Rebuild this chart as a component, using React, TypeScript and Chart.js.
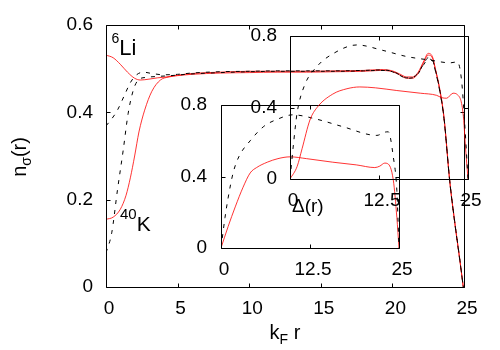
import React, { useEffect, useRef } from "react";
import { Chart, registerables } from "chart.js";

Chart.register(...registerables);

type P = [number, number][];

const FONT = "'Liberation Sans', Arial, Helvetica, sans-serif";
const RED = "rgba(255,0,0,0.8)";
const BLACK = "#000";
const DASH = [4, 6];

// ---------- main panel: n_sigma(r) vs k_F r ----------
const mainXTicks = [0, 5, 10, 15, 20, 25];
const mainXTickLabels = ["0", "5", "10", "15", "20", "25"];
const mainYTicks = [0, 0.2, 0.4, 0.6];
const mainYTickLabels = ["0", "0.2", "0.4", "0.6"];

const li6Red: P = [
  [0, 0.531], [0.5, 0.525], [1, 0.51], [1.5, 0.492], [2, 0.478], [2.4, 0.474], [3, 0.476],
  [3.6, 0.479], [4.2, 0.481], [5, 0.485], [6, 0.489], [8, 0.492], [10, 0.494], [12, 0.494],
  [14, 0.494], [16, 0.495], [18, 0.496], [19.2, 0.498], [20, 0.495], [20.5, 0.488], [21, 0.481],
  [21.4, 0.481], [21.8, 0.492], [22.2, 0.518], [22.5, 0.535], [22.8, 0.527], [23, 0.5],
  [23.3, 0.455], [23.6, 0.39], [24, 0.245], [24.35, 0.15], [24.7, 0.065], [24.95, 0],
];
const k40Red: P = [
  [0, 0.155], [0.5, 0.16], [1, 0.178], [1.4, 0.21], [1.7, 0.25], [2, 0.3], [2.3, 0.355],
  [2.7, 0.405], [3.2, 0.448], [3.8, 0.474], [4.4, 0.481], [5, 0.484], [6, 0.487], [8, 0.49],
  [10, 0.491], [12, 0.492], [14, 0.492], [16, 0.493], [18, 0.494], [19.2, 0.496], [20, 0.493],
  [20.5, 0.486], [21, 0.478], [21.4, 0.478], [21.8, 0.489], [22.2, 0.515], [22.5, 0.531],
  [22.8, 0.524], [23, 0.498], [23.3, 0.452], [23.6, 0.388], [24, 0.243], [24.35, 0.148],
  [24.7, 0.063], [24.95, 0],
];
const li6Dash: P = [
  [0, 0.369], [0.4, 0.385], [0.8, 0.405], [1.3, 0.44], [1.7, 0.468], [2.1, 0.485], [2.6, 0.492],
  [3.2, 0.489], [4, 0.486], [5, 0.487], [6, 0.49], [8, 0.493], [10, 0.494], [12, 0.495],
  [14, 0.495], [16, 0.495], [18, 0.496], [19.2, 0.497], [20, 0.494], [20.5, 0.486], [21, 0.479],
  [21.4, 0.48], [21.8, 0.49], [22.2, 0.512], [22.5, 0.525], [22.8, 0.52], [23, 0.497],
  [23.3, 0.452], [23.6, 0.388], [24, 0.245], [24.35, 0.15], [24.7, 0.065], [24.95, 0],
];
const k40Dash: P = [
  [0, 0.078], [0.4, 0.124], [0.8, 0.222], [1.2, 0.313], [1.55, 0.398], [1.9, 0.45], [2.25, 0.474],
  [2.8, 0.48], [3.5, 0.482], [4.5, 0.484], [6, 0.488], [8, 0.491], [10, 0.493], [12, 0.494],
  [14, 0.494], [16, 0.494], [18, 0.495], [19.2, 0.496], [20, 0.493], [20.5, 0.485], [21, 0.478],
  [21.4, 0.479], [21.8, 0.489], [22.2, 0.51], [22.5, 0.522], [22.8, 0.518], [23, 0.495],
  [23.3, 0.45], [23.6, 0.386], [24, 0.243], [24.35, 0.148], [24.7, 0.063], [24.95, 0],
];

// ---------- inset panels ----------
const insetXTicks = [0, 12.5, 25];
const insetXTickLabels = ["0", "12.5", "25"];
const insetYTicks = [0, 0.4, 0.8];
const insetYTickLabels = ["0", "0.4", "0.8"];

const inset1Red: P = [
  [0, 0], [1, 0.12], [2, 0.23], [3.1, 0.34], [4.1, 0.42], [5, 0.45], [6.5, 0.48], [8, 0.5],
  [9.7, 0.51], [12, 0.5], [15.7, 0.48], [19, 0.465], [21.6, 0.45], [22.3, 0.458], [23, 0.475],
  [23.4, 0.472], [24.2, 0.38], [24.7, 0.17], [25, 0],
];
const inset1Dash: P = [
  [0, 0], [0.56, 0.17], [1, 0.28], [1.7, 0.42], [2.5, 0.51], [4.1, 0.6], [6, 0.68], [7.9, 0.72],
  [10.1, 0.745], [13.5, 0.72], [17, 0.68], [21.9, 0.63], [23, 0.648], [23.5, 0.65], [24.2, 0.51],
  [24.7, 0.32], [25, 0],
];
const inset2Red: P = [
  [0, 0], [1, 0.07], [1.7, 0.17], [2.8, 0.33], [3.8, 0.4], [6, 0.475], [8, 0.505], [9.8, 0.515],
  [12, 0.51], [15, 0.495], [18.3, 0.48], [20.6, 0.468], [21.3, 0.455], [22, 0.452], [22.9, 0.48],
  [23.5, 0.472], [24.3, 0.37], [24.7, 0.15], [25, 0],
];
const inset2Dash: P = [
  [0, 0], [0.5, 0.2], [1, 0.37], [2, 0.52], [3.8, 0.63], [6, 0.7], [9.4, 0.75], [13, 0.72],
  [16.4, 0.685], [19.7, 0.665], [22.5, 0.65], [23.5, 0.655], [24.1, 0.55], [24.6, 0.27], [25, 0],
];

type Part = { t: string; size: number; dy?: number };

function drawRich(ctx: CanvasRenderingContext2D, parts: Part[], x: number, y: number, align: "left" | "center") {
  let total = 0;
  const widths = parts.map((p) => {
    ctx.font = `${p.size}px ${FONT}`;
    const w = ctx.measureText(p.t).width;
    total += w;
    return w;
  });
  let cx = align === "center" ? x - total / 2 : x;
  ctx.textAlign = "left";
  ctx.textBaseline = "alphabetic";
  ctx.fillStyle = "#000";
  parts.forEach((p, i) => {
    ctx.font = `${p.size}px ${FONT}`;
    ctx.fillText(p.t, cx, y + (p.dy || 0));
    cx += widths[i];
  });
}

interface Spec {
  name: string;
  area: { left: number; top: number; right: number; bottom: number };
  xMax: number;
  yMax: number;
  xTicks: number[];
  xTickLabels: string[];
  yTicks: number[];
  yTickLabels: string[];
  xPad: number;
  yPad: number;
  series: { data: P; color: string; dash: number[] }[];
  texts?: (ctx: CanvasRenderingContext2D) => void;
}

const Y_W = 60;
const X_H = 40;
const TICK = 4;

function build(canvas: HTMLCanvasElement, s: Spec) {
  const frame = {
    id: "frame_" + s.name,
    afterDatasetsDraw(chart: any) {
      const { ctx, chartArea: a, scales } = chart;
      const sx = scales.x;
      const sy = scales.y;
      ctx.save();
      ctx.strokeStyle = BLACK;
      ctx.lineWidth = 1;
      ctx.setLineDash([]);
      const L = Math.round(a.left) + 0.5;
      const R = Math.round(a.right) + 0.5;
      const T = Math.round(a.top) + 0.5;
      const B = Math.round(a.bottom) + 0.5;
      ctx.beginPath();
      ctx.rect(L, T, R - L, B - T);
      s.xTicks.forEach((v) => {
        const px = Math.round(sx.getPixelForValue(v)) + 0.5;
        ctx.moveTo(px, B);
        ctx.lineTo(px, B - TICK);
        ctx.moveTo(px, T);
        ctx.lineTo(px, T + TICK);
      });
      s.yTicks.forEach((v) => {
        const py = Math.round(sy.getPixelForValue(v)) + 0.5;
        ctx.moveTo(L, py);
        ctx.lineTo(L + TICK, py);
        ctx.moveTo(R, py);
        ctx.lineTo(R - TICK, py);
      });
      ctx.stroke();
      if (s.texts) s.texts(ctx);
      ctx.restore();
    },
  };

  const tickFont = { family: FONT, size: 19 };
  return new Chart(canvas, {
    type: "line",
    data: {
      datasets: s.series.map((d) => ({
        data: d.data.map(([x, y]) => ({ x, y })),
        borderColor: d.color,
        borderDash: d.dash,
        borderWidth: 1,
        pointRadius: 0,
        fill: false,
        cubicInterpolationMode: "monotone" as const,
      })),
    },
    options: {
      responsive: false,
      animation: false,
      devicePixelRatio: 1,
      events: [],
      layout: {
        padding: {
          left: s.area.left - Y_W,
          top: s.area.top,
          right: 500 - s.area.right,
          bottom: 350 - s.area.bottom - X_H,
        },
      },
      plugins: { legend: { display: false }, tooltip: { enabled: false }, title: { display: false } },
      scales: {
        x: {
          type: "linear",
          min: 0,
          max: s.xMax,
          grid: { display: false, drawTicks: false },
          border: { display: false },
          afterBuildTicks: (ax: any) => {
            ax.ticks = s.xTicks.map((v) => ({ value: v }));
          },
          afterFit: (ax: any) => {
            ax.height = X_H;
          },
          ticks: {
            callback: (_v: any, i: number) => s.xTickLabels[i],
            font: tickFont,
            color: "#000",
            padding: s.xPad,
            labelOffset: 3,
            maxRotation: 0,
            minRotation: 0,
            autoSkip: false,
          },
        },
        y: {
          type: "linear",
          min: 0,
          max: s.yMax,
          grid: { display: false, drawTicks: false },
          border: { display: false },
          afterBuildTicks: (ax: any) => {
            ax.ticks = s.yTicks.map((v) => ({ value: v }));
          },
          afterFit: (ax: any) => {
            ax.width = Y_W;
          },
          ticks: {
            callback: (_v: any, i: number) => s.yTickLabels[i],
            font: tickFont,
            color: "#000",
            padding: s.yPad,
            autoSkip: false,
          },
        },
      },
    } as any,
    plugins: [frame as any],
  });
}

const mainSpec: Spec = {
  name: "main",
  area: { left: 106, top: 25, right: 464, bottom: 287 },
  xMax: 25,
  yMax: 0.6,
  xTicks: mainXTicks,
  xTickLabels: mainXTickLabels,
  yTicks: mainYTicks,
  yTickLabels: mainYTickLabels,
  xPad: 10,
  yPad: 13,
  series: [
    { data: li6Dash, color: BLACK, dash: DASH },
    { data: k40Dash, color: BLACK, dash: DASH },
    { data: li6Red, color: RED, dash: [] },
    { data: k40Red, color: RED, dash: [] },
  ],
  texts: (ctx) => {
    // axis titles
    drawRich(ctx, [{ t: "k", size: 20 }, { t: "F", size: 14, dy: 5 }, { t: " r", size: 20 }], 285, 339, "center");
    ctx.save();
    ctx.translate(26, 157);
    ctx.rotate(-Math.PI / 2);
    drawRich(ctx, [{ t: "n", size: 20 }, { t: "σ", size: 14, dy: 5 }, { t: "(r)", size: 20 }], 0, 0, "center");
    ctx.restore();
    // species labels
    drawRich(ctx, [{ t: "6", size: 14, dy: -12 }, { t: "Li", size: 22 }], 111.5, 55, "left");
    drawRich(ctx, [{ t: "40", size: 15, dy: -12 }, { t: "K", size: 21 }], 120, 231, "left");
  },
};

const inset1Spec: Spec = {
  name: "inset1",
  area: { left: 221, top: 105, right: 399, bottom: 248 },
  xMax: 25,
  yMax: 0.8,
  xTicks: insetXTicks,
  xTickLabels: insetXTickLabels,
  yTicks: insetYTicks,
  yTickLabels: insetYTickLabels,
  xPad: 10.5,
  yPad: 14,
  series: [
    { data: inset1Dash, color: BLACK, dash: DASH },
    { data: inset1Red, color: RED, dash: [] },
  ],
};

const inset2Spec: Spec = {
  name: "inset2",
  area: { left: 290, top: 36, right: 468, bottom: 179 },
  xMax: 25,
  yMax: 0.8,
  xTicks: insetXTicks,
  xTickLabels: insetXTickLabels,
  yTicks: insetYTicks,
  yTickLabels: insetYTickLabels,
  xPad: 10,
  yPad: 13,
  series: [
    { data: inset2Dash, color: BLACK, dash: DASH },
    { data: inset2Red, color: RED, dash: [] },
  ],
  texts: (ctx) => {
    drawRich(ctx, [{ t: "Δ(r)", size: 19 }], 292, 212, "left");
  },
};

export default function App() {
  const r1 = useRef<HTMLCanvasElement>(null);
  const r2 = useRef<HTMLCanvasElement>(null);
  const r3 = useRef<HTMLCanvasElement>(null);

  useEffect(() => {
    const charts = [
      build(r1.current!, mainSpec),
      build(r2.current!, inset1Spec),
      build(r3.current!, inset2Spec),
    ];
    return () => charts.forEach((c) => c.destroy());
  }, []);

  const cs: React.CSSProperties = { position: "absolute", left: 0, top: 0, width: 500, height: 350, display: "block" };
  return (
    <div style={{ position: "absolute", left: 0, top: 0, width: 500, height: 350, background: "#fff" }}>
      <canvas ref={r1} width={500} height={350} style={cs} />
      <canvas ref={r2} width={500} height={350} style={cs} />
      <canvas ref={r3} width={500} height={350} style={cs} />
    </div>
  );
}
